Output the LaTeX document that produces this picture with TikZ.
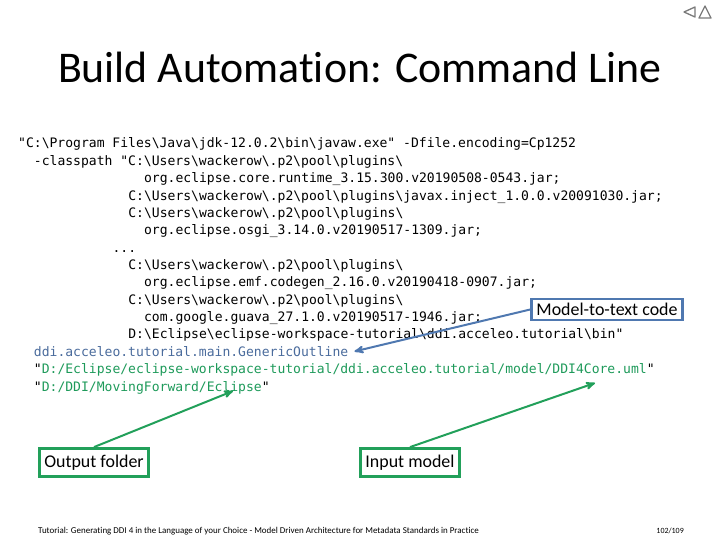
\documentclass[tikz,border=0pt]{standalone}
\usepackage{fontspec}
\setmainfont{Carlito}[Ligatures={NoCommon}]
\newfontfamily\codefont{DejaVu Sans Mono}
\usetikzlibrary{positioning, arrows}
\definecolor{boxblue}{HTML}{4F78B0}
\definecolor{boxgreen}{HTML}{22A05A}
\definecolor{codeblue}{HTML}{4A6B9C}
\definecolor{codegreen}{HTML}{1E9A5A}
\definecolor{navgray}{HTML}{7A7A7A}
\newcommand{\bsl}{\textbackslash}
\tikzset{
x=1bp, y=-1bp, % one unit is one pixel, y runs down
>=stealth', % sharp arrow heads
code/.style={anchor=base west, inner sep=0pt, font=\codefont\fontsize{13.1}{15}\selectfont}, % one line of the command
note/.style={draw, line width=2.5bp, fill=white, font=\fontsize{18}{21}\selectfont, inner xsep=5bp, inner ysep=4bp}, % label boxes
pointer/.style={->, line width=2bp}, % arrows from the boxes
}

\begin{document}
\begin{tikzpicture}
            \useasboundingbox (0,0) rectangle (720,540);
            % navigation
            \draw[navgray, line width=1.3bp, line join=round] (695,7) -- (684,12) -- (695,17) -- cycle;
            \draw[navgray, line width=1.3bp, line join=round] (699,18) -- (705,6) -- (711,18) -- cycle;
            \node (title) at (360,67) {\fontsize{44}{50}\selectfont Build Automation: Command Line};
            % the command line
            \node[code] (l0) at (18+0*7.87,148+0*17.36) {"C:\bsl Program Files\bsl Java\bsl jdk-12.0.2\bsl bin\bsl javaw.exe" -Dfile.encoding=Cp1252};
            \node[code] (l1) at (18+2*7.87,148+1*17.36) {-classpath "C:\bsl Users\bsl wackerow\bsl .p2\bsl pool\bsl plugins\bsl};
            \node[code] (l2) at (18+16*7.87,148+2*17.36) {org.eclipse.core.runtime\_3.15.300.v20190508-0543.jar;};
            \node[code] (l3) at (18+14*7.87,148+3*17.36) {C:\bsl Users\bsl wackerow\bsl .p2\bsl pool\bsl plugins\bsl javax.inject\_1.0.0.v20091030.jar;};
            \node[code] (l4) at (18+14*7.87,148+4*17.36) {C:\bsl Users\bsl wackerow\bsl .p2\bsl pool\bsl plugins\bsl};
            \node[code] (l5) at (18+16*7.87,148+5*17.36) {org.eclipse.osgi\_3.14.0.v20190517-1309.jar;};
            \node[code] (l6) at (18+12*7.87,148+6*17.36) {...};
            \node[code] (l7) at (18+14*7.87,148+7*17.36) {C:\bsl Users\bsl wackerow\bsl .p2\bsl pool\bsl plugins\bsl};
            \node[code] (l8) at (18+16*7.87,148+8*17.36) {org.eclipse.emf.codegen\_2.16.0.v20190418-0907.jar;};
            \node[code] (l9) at (18+14*7.87,148+9*17.36) {C:\bsl Users\bsl wackerow\bsl .p2\bsl pool\bsl plugins\bsl};
            \node[code] (l10) at (18+16*7.87,148+10*17.36) {com.google.guava\_27.1.0.v20190517-1946.jar;};
            \node[code] (l11) at (18+14*7.87,148+11*17.36) {D:\bsl Eclipse\bsl eclipse-workspace-tutorial\bsl ddi.acceleo.tutorial\bsl bin"};
            \node[code, text=codeblue] (gen) at (18+2*7.87,148+12*17.36) {ddi.acceleo.tutorial.main.GenericOutline};
            \node[code] (model) at (18+2*7.87,148+13*17.36) {"\textcolor{codegreen}{D:/Eclipse/eclipse-workspace-tutorial/ddi.acceleo.tutorial/model/DDI4Core.uml}"};
            \node[code] (out) at (18+2*7.87,148+14*17.36) {"\textcolor{codegreen}{D:/DDI/MovingForward/Eclipse}"};
            % labels
            \node[note, draw=boxblue] (m2t) at (607,309.5) {Model-to-text code};
            \node[note, draw=boxgreen, inner ysep=6.5bp] (outbox) at (94,462.5) {Output folder};
            \node[note, draw=boxgreen, inner ysep=6.5bp] (inbox) at (410,462.5) {Input model};
            \coordinate (outtip) at (233,391);
            \coordinate (intip) at (595,383);
            \draw[pointer, boxblue] (m2t.west) -- ([xshift=6bp]gen.east);
            \draw[pointer, boxgreen] (outbox.north) -- (outtip);
            \draw[pointer, boxgreen] (inbox.north) -- (intip);
            % footer
            \node[anchor=west, inner sep=0pt, font=\fontsize{9}{10}\selectfont] (footer) at (38,531) {Tutorial: Generating DDI 4 in the Language of your Choice - Model Driven Architecture for Metadata Standards in Practice};
            \node[anchor=east, inner sep=0pt, font=\fontsize{8}{9}\selectfont] (page) at (684,531) {102/109};
            \end{tikzpicture}
\end{document}
